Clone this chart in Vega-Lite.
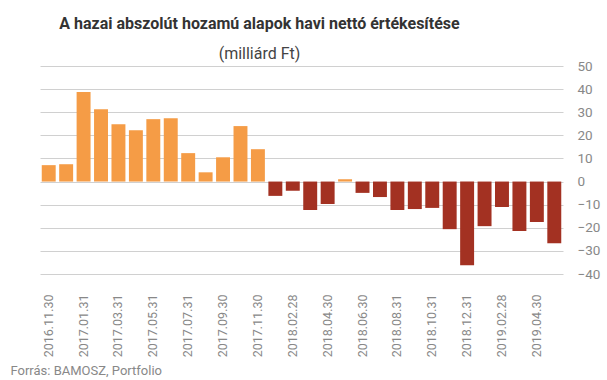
{
  "$schema": "https://vega.github.io/schema/vega-lite/v6.json",
  "width": 523,
  "height": 208,
  "autosize": {"type": "none"},
  "padding": {"left": 40, "top": 66, "right": 44, "bottom": 106},
  "background": "white",
  "title": {
    "text": "A hazai abszolút hozamú alapok havi nettó értékesítése",
    "subtitle": "(milliárd Ft)",
    "anchor": "middle",
    "dx": -42,
    "font": "Roboto",
    "fontSize": 16,
    "fontWeight": "bold",
    "color": "#333333",
    "subtitleFont": "Roboto",
    "subtitleFontSize": 16,
    "subtitleColor": "#444444",
    "subtitlePadding": 14,
    "offset": -3
  },
  "data": {
    "values": [
      {"date": "2016.11.30", "value": 7.1},
      {"date": "2016.12.31", "value": 7.5},
      {"date": "2017.01.31", "value": 38.7},
      {"date": "2017.02.28", "value": 31.3},
      {"date": "2017.03.31", "value": 24.8},
      {"date": "2017.04.30", "value": 22.2},
      {"date": "2017.05.31", "value": 27.0},
      {"date": "2017.06.30", "value": 27.4},
      {"date": "2017.07.31", "value": 12.3},
      {"date": "2017.08.31", "value": 4.0},
      {"date": "2017.09.30", "value": 10.5},
      {"date": "2017.10.31", "value": 24.0},
      {"date": "2017.11.30", "value": 14.0},
      {"date": "2018.01.31", "value": -6.2},
      {"date": "2018.02.28", "value": -4.0},
      {"date": "2018.03.31", "value": -12.3},
      {"date": "2018.04.30", "value": -9.7},
      {"date": "2018.05.31", "value": 1.0},
      {"date": "2018.06.30", "value": -4.9},
      {"date": "2018.07.31", "value": -6.7},
      {"date": "2018.08.31", "value": -12.3},
      {"date": "2018.09.30", "value": -11.9},
      {"date": "2018.10.31", "value": -11.4},
      {"date": "2018.11.30", "value": -20.6},
      {"date": "2018.12.31", "value": -36.2},
      {"date": "2019.01.31", "value": -19.3},
      {"date": "2019.02.28", "value": -11.0},
      {"date": "2019.03.31", "value": -21.4},
      {"date": "2019.04.30", "value": -17.5},
      {"date": "2019.05.31", "value": -26.7}
    ]
  },
  "mark": {"type": "bar"},
  "encoding": {
    "x": {
      "field": "date",
      "type": "ordinal",
      "sort": null,
      "scale": {"paddingInner": 0.2, "paddingOuter": 0.1},
      "axis": {
        "values": ["2016.11.30", "2017.01.31", "2017.03.31", "2017.05.31", "2017.07.31", "2017.09.30", "2017.11.30", "2018.02.28", "2018.04.30", "2018.06.30", "2018.08.31", "2018.10.31", "2018.12.31", "2019.02.28", "2019.04.30"],
        "labelAngle": -90,
        "labelFont": "Roboto",
        "labelFontSize": 12.5,
        "labelColor": "#888888",
        "labelPadding": 20,
        "ticks": false,
        "domain": false,
        "title": "Forrás: BAMOSZ, Portfolio",
        "titleFont": "Roboto",
        "titleFontSize": 13,
        "titleFontWeight": "normal",
        "titleColor": "#888888",
        "titleAnchor": "start",
        "titleAlign": "left",
        "titleBaseline": "alphabetic",
        "titleX": -30,
        "titleY": 100
      }
    },
    "y": {
      "field": "value",
      "type": "quantitative",
      "scale": {"domain": [-40, 50], "nice": false},
      "axis": {
        "orient": "right",
        "values": [-40, -30, -20, -10, 0, 10, 20, 30, 40, 50],
        "labelFont": "Roboto",
        "labelFontSize": 13.5,
        "labelColor": "#888888",
        "labelPadding": 14,
        "ticks": false,
        "domain": false,
        "grid": true,
        "gridColor": "#d0d0d0",
        "gridWidth": 1,
        "title": null
      }
    },
    "color": {
      "condition": {"test": "datum.value > 0", "value": "#F59C46"},
      "value": "#A33122"
    }
  },
  "config": {"view": {"stroke": null}}
}
